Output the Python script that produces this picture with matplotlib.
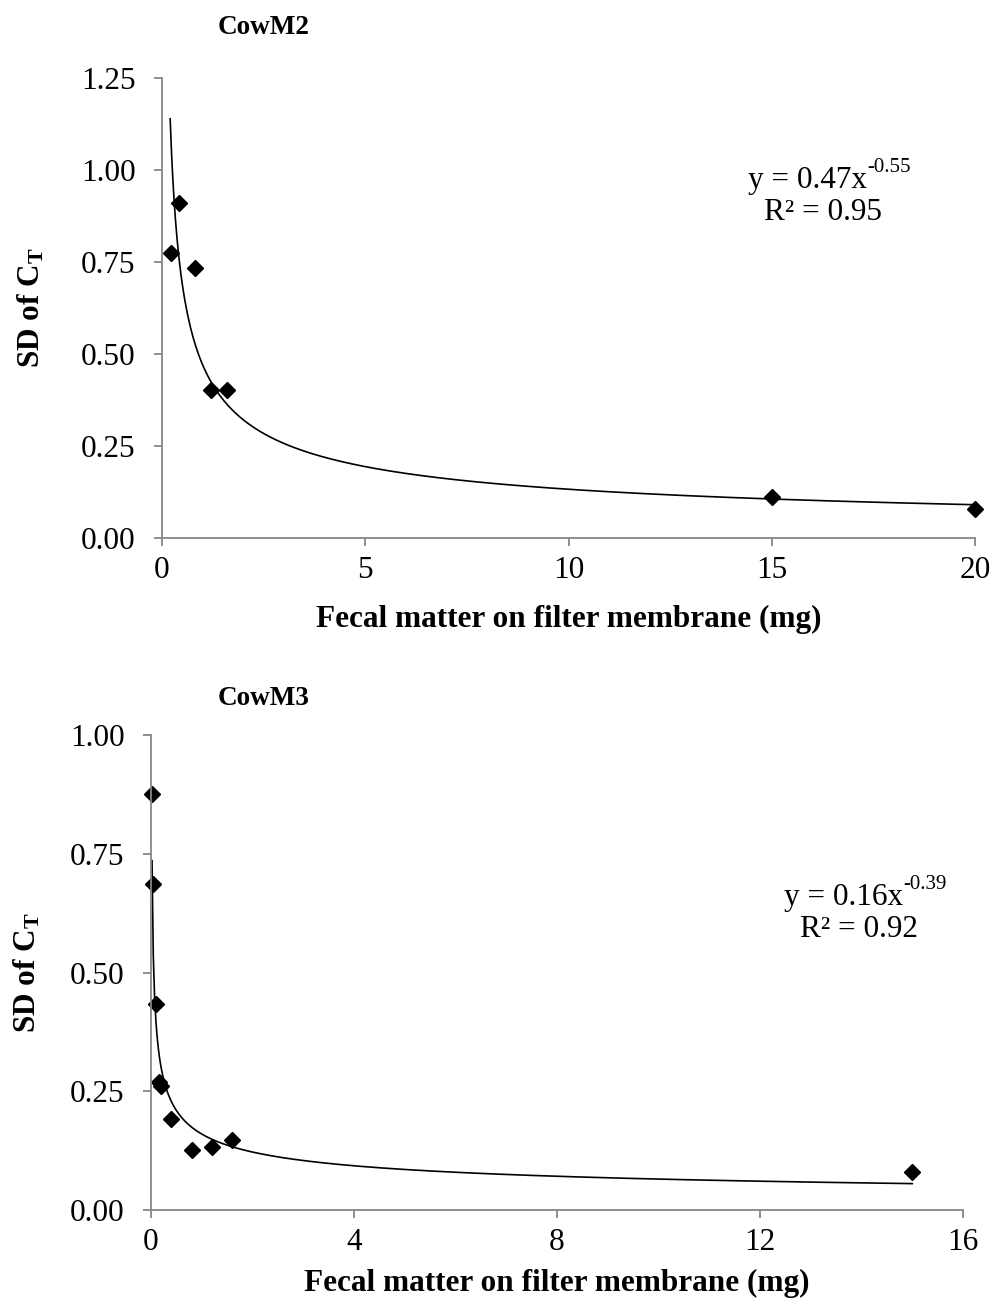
import matplotlib as mpl
import matplotlib.pyplot as plt
import numpy as np

mpl.rcParams['font.family'] = ['Liberation Serif', 'DejaVu Serif']
mpl.rcParams['mathtext.fontset'] = 'custom'
mpl.rcParams['mathtext.rm'] = 'Liberation Serif'
mpl.rcParams['mathtext.it'] = 'Liberation Serif:italic'
mpl.rcParams['mathtext.bf'] = 'Liberation Serif:bold'

# CowM2
m2_x = [0.22, 0.41, 0.82, 1.2, 1.6, 15, 20]
m2_y = [0.775, 0.91, 0.733, 0.402, 0.402, 0.111, 0.079]
m2_a, m2_b = 0.47, -0.55
m2_fit = (0.2, 20)

# CowM3
m3_x = [0.01, 0.03, 0.09, 0.15, 0.2, 0.39, 0.8, 1.2, 1.6, 15]
m3_y = [0.876, 0.686, 0.434, 0.27, 0.262, 0.191, 0.126, 0.132, 0.147, 0.08]
m3_a, m3_b = 0.16, -0.39
m3_fit = (0.02, 15)

gray = '#868686'
fs = 22.5

fig = plt.figure(figsize=(9.96, 13.10), dpi=100)


def panel(rect, xs, ys, a, b, fitrange, xmax, xticks, ymax, yticks, title,
          eq, sup, r2, eqpos, titlepos, xlabel_y, ylabel_x):
    ax = fig.add_axes(rect)
    xf = np.linspace(fitrange[0], fitrange[1], 600)
    ax.plot(xf, a * xf ** b, color='black', lw=1.2)
    ax.plot(xs, ys, 'D', color='black', markersize=8.5, clip_on=False)
    ax.set_xlim(0, xmax)
    ax.set_ylim(0, ymax)
    ax.set_xticks(xticks)
    ax.set_yticks(yticks)
    ax.set_yticklabels(['%.2f' % v for v in yticks])
    for s in ['top', 'right']:
        ax.spines[s].set_visible(False)
    for s in ['left', 'bottom']:
        ax.spines[s].set_color(gray)
        ax.spines[s].set_linewidth(1.3)
    ax.tick_params(direction='out', length=6, width=1.3, color=gray,
                   labelsize=fs)
    ax.tick_params(axis='y', pad=13)
    ax.tick_params(axis='x', pad=7)
    ax.set_xlabel('Fecal matter on filter membrane (mg)', fontsize=fs,
                  fontweight='bold')
    ax.xaxis.label.set_verticalalignment('center')
    ax.set_ylabel(r'SD of C$_\mathbf{T}$', fontsize=fs, fontweight='bold')
    ax.yaxis.label.set_verticalalignment('center')
    ax.yaxis.set_label_coords(ylabel_x / 996, rect[1] + rect[3] / 2,
                              transform=fig.transFigure)
    ax.xaxis.set_label_coords(rect[0] + rect[2] / 2, 1 - xlabel_y / 1310,
                              transform=fig.transFigure)
    fig.text(titlepos[0], titlepos[1], title, fontsize=19.5, fontweight='bold',
             ha='left', va='center')
    t = fig.text(eqpos[0] / 996, 1 - eqpos[1] / 1310, eq, fontsize=fs,
                 ha='right', va='baseline')
    ax.annotate(sup, xy=(1, 0.62), xycoords=t, fontsize=15, ha='left',
                va='bottom')
    fig.text(eqpos[2] / 996, 1 - (eqpos[1] + 32) / 1310, r2, fontsize=fs,
             ha='center', va='baseline')
    return ax


panel([0.1627, 0.5893, 0.8163, 0.3512], m2_x, m2_y, m2_a, m2_b, m2_fit,
      20, [0, 5, 10, 15, 20], 1.25, [0, 0.25, 0.5, 0.75, 1.0, 1.25],
      'CowM2', 'y = 0.47x', '-0.55', 'R² = 0.95',
      (867, 188, 823), (218 / 996, 1 - 28 / 1310),
      619, 31)

panel([0.1516, 0.0763, 0.8153, 0.3626], m3_x, m3_y, m3_a, m3_b, m3_fit,
      16, [0, 4, 8, 12, 16], 1.0, [0, 0.25, 0.5, 0.75, 1.0],
      'CowM3', 'y = 0.16x', '-0.39', 'R² = 0.92',
      (903, 905, 859), (218 / 996, 1 - 698 / 1310),
      1283, 27)

fig.savefig('out.png', dpi=100)
